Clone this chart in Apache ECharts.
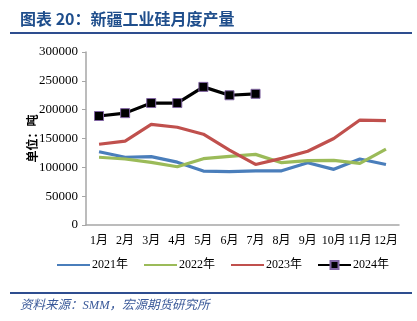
<!DOCTYPE html>
<html><head><meta charset="utf-8">
<script src="https://cdn.jsdelivr.net/npm/echarts@6/dist/echarts.min.js"></script>
<style>html,body{margin:0;padding:0;background:#fff}#c{width:417px;height:321px}</style>
</head><body><div id="c"></div>
<script>
var categories = ['1月','2月','3月','4月','5月','6月','7月','8月','9月','10月','11月','12月'];
var s2021 = [127000,117500,118500,109000,93500,92500,94000,94000,108000,96500,114500,105000];
var s2022 = [117500,114500,108500,101000,115000,119000,122500,108000,111500,112000,107000,131500];
var s2023 = [140000,145500,174500,169500,157500,130000,105000,115500,128000,150000,182000,181000];
var s2024 = [189000,194000,211500,211500,239500,225000,227500];
var seriesNames = ['2021年','2022年','2023年','2024年'];
var yTicks = {min:0, max:300000, interval:50000};

var serif = '"Liberation Serif","Noto Sans CJK SC",serif';
var chart = echarts.init(document.getElementById('c'));
function line(name, data, color, extra){
  var o = {name:name, type:'line', data:data, symbol:'none', smooth:false,
    lineStyle:{color:color, width:3.2}, itemStyle:{color:color}};
  return Object.assign(o, extra||{});
}
chart.setOption({
  animation:false,
  grid:{left:86, right:18, top:52, bottom:96, containLabel:false},
  xAxis:{type:'category', data:categories, boundaryGap:true,
    axisLine:{lineStyle:{color:'#a6a6a6', width:1.5}}, axisTick:{show:false},
    axisLabel:{color:'#000', fontFamily:serif, fontSize:12, margin:10, interval:0}},
  yAxis:{type:'value', min:yTicks.min, max:yTicks.max, interval:yTicks.interval,
    name:'单位：吨', nameLocation:'middle', nameGap:46, nameRotate:90, nameMoveOverlap:false,
    nameTextStyle:{color:'#000', fontFamily:serif, fontSize:12, fontWeight:'bold'},
    splitLine:{show:false},
    axisLine:{show:true, lineStyle:{color:'#a6a6a6', width:1.5}},
    axisTick:{show:true, length:4, lineStyle:{color:'#a6a6a6'}},
    axisLabel:{color:'#000', fontFamily:serif, fontSize:13, margin:8,
      formatter:function(v){return String(v);}}},
  legend:{bottom:45, left:51, itemWidth:33, itemHeight:10, itemGap:15,
    textStyle:{color:'#000', fontFamily:serif, fontSize:12, padding:[0,0,0,-3]},
    data:[{name:seriesNames[0], itemStyle:{opacity:0}},
          {name:seriesNames[1], itemStyle:{opacity:0}},
          {name:seriesNames[2], itemStyle:{opacity:0}},
          {name:seriesNames[3]}]},
  series:[
    line(seriesNames[0], s2021, '#4a7ebb'),
    line(seriesNames[1], s2022, '#9bbb59'),
    line(seriesNames[2], s2023, '#c0504d'),
    line(seriesNames[3], s2024, '#000000', {symbol:'rect', symbolSize:9,
      itemStyle:{color:'#000', borderColor:'#8064a2', borderWidth:1}})
  ],
  graphic:[
    {type:'text', left:20, top:11, style:{text:'图表 20：新疆工业硅月度产量', fill:'#1f4e8c',
      font:'bold 16px "Noto Sans CJK SC", sans-serif'}},
    {type:'rect', shape:{x:10, y:32, width:402, height:2}, style:{fill:'#2e4d8f'}},
    {type:'rect', shape:{x:10, y:292, width:402, height:2}, style:{fill:'#2e4d8f'}},
    {type:'text', left:20, top:299, style:{text:'资料来源：SMM，宏源期货研究所', fill:'#3b5a9a',
      font:'italic 12.5px "Liberation Serif","Noto Sans CJK SC", serif'}}
  ]
});
</script></body></html>
